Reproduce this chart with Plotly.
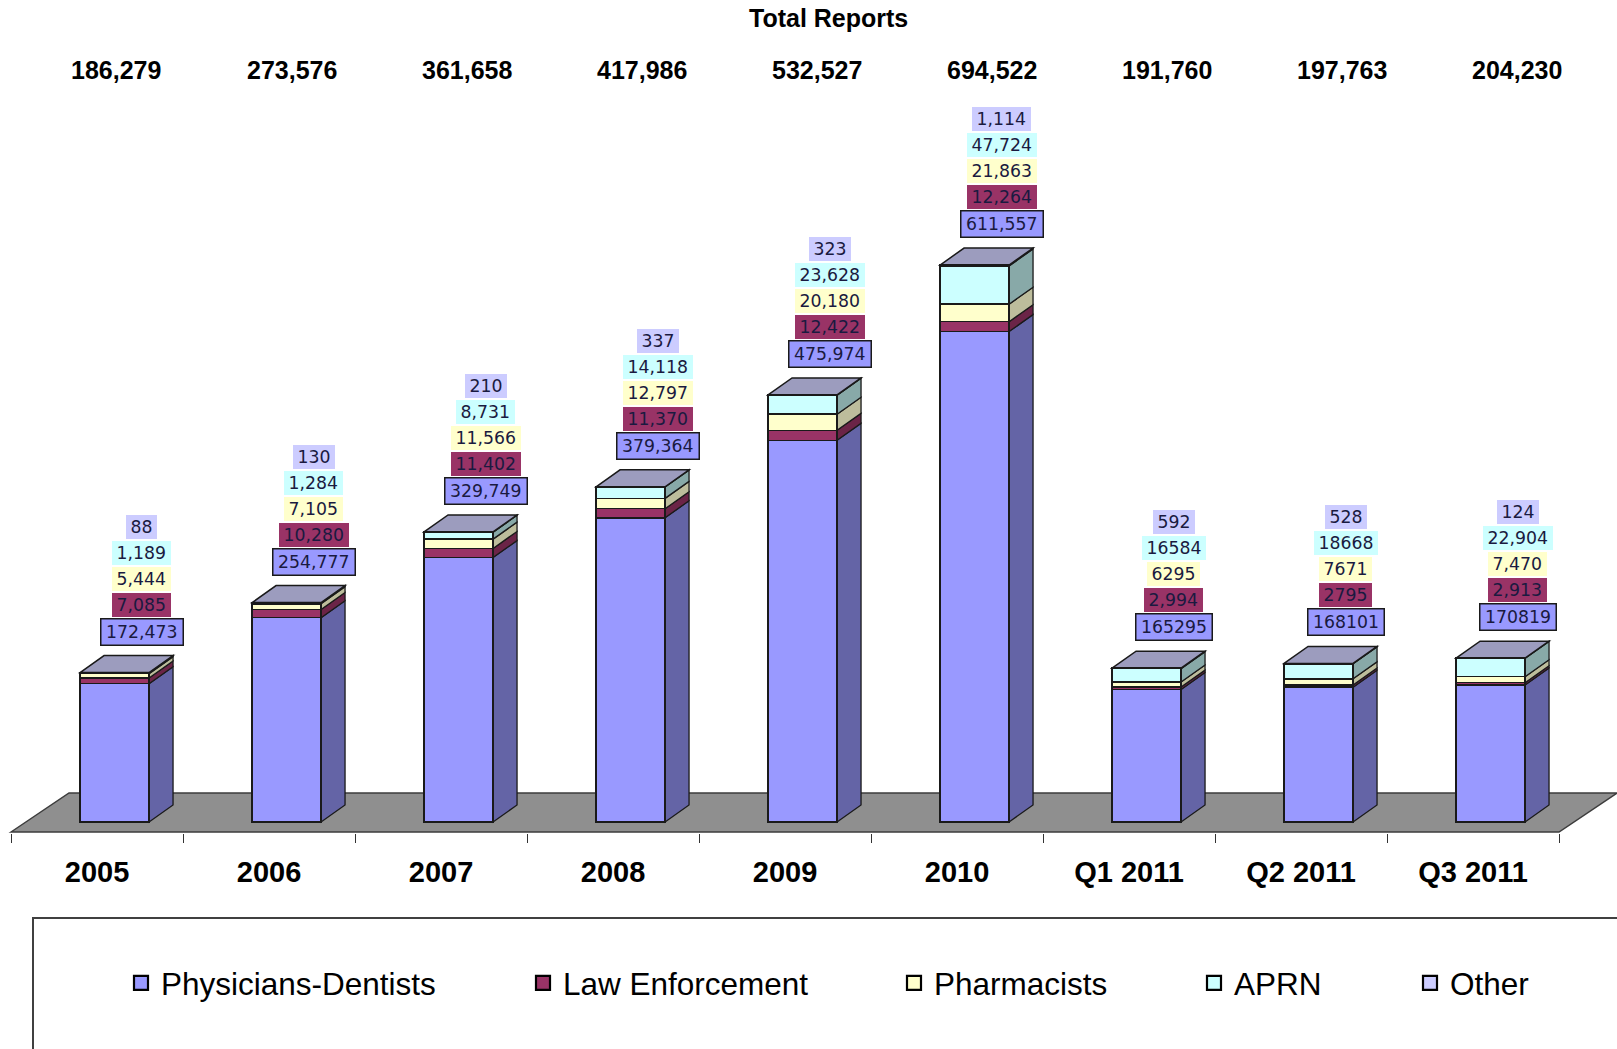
import plotly.graph_objects as go

# ---------------- data ----------------
categories = ["2005", "2006", "2007", "2008", "2009", "2010", "Q1 2011", "Q2 2011", "Q3 2011"]
series_names = ["Physicians-Dentists", "Law Enforcement", "Pharmacists", "APRN", "Other"]
physicians_dentists = [172473, 254777, 329749, 379364, 475974, 611557, 165295, 168101, 170819]
law_enforcement = [7085, 10280, 11402, 11370, 12422, 12264, 2994, 2795, 2913]
pharmacists = [5444, 7105, 11566, 12797, 20180, 21863, 6295, 7671, 7470]
aprn = [1189, 1284, 8731, 14118, 23628, 47724, 16584, 18668, 22904]
other = [88, 130, 210, 337, 323, 1114, 592, 528, 124]
# whether the printed data label uses a thousands separator (as in the original)
phys_comma = [1, 1, 1, 1, 1, 1, 0, 0, 0]
le_comma = [1, 1, 1, 1, 1, 1, 1, 0, 1]
pharm_comma = [1, 1, 1, 1, 1, 1, 0, 0, 1]
aprn_comma = [1, 1, 1, 1, 1, 1, 0, 0, 1]
other_comma = [1, 1, 1, 1, 1, 1, 1, 1, 1]
title_text = "Total Reports"

# ---------------- styles ----------------
FONT = "Liberation Sans, Arial, sans-serif"
LABEL_FONT = "DejaVu Sans, Verdana, sans-serif"
front_colors = ["#9999FF", "#993366", "#FFFFCC", "#CCFFFF", "#CCCCFF"]
side_colors = ["#6464A6", "#6B2447", "#BDBD9C", "#88A9A8", "#9999BF"]
top_color = "#9C9CBE"
EDGE = "#1a1a1a"
FLOOR = "#8F8F8F"

W, H = 1617, 1049
PLOT_BOTTOM_PX = 833      # bottom of plotting area (px from top)
BASE_PX = 822             # pixel row of value 0 (front bottom of bars)
UPP = 1247.0              # value units per pixel
CAT_PX = 172.0            # pixels per category
X0 = -0.564               # x value at left edge
BAR_W = 0.401
BAR_SHIFT = 0.102
DEPTH_DX = 24 / CAT_PX
DEPTH_DY = 17 * UPP
FLOOR_DX = 58 / CAT_PX
FLOOR_FRONT = -10 * UPP
FLOOR_BACK = 29 * UPP

all_series = [physicians_dentists, law_enforcement, pharmacists, aprn, other]
comma_flags = [phys_comma, le_comma, pharm_comma, aprn_comma, other_comma]
n = len(categories)
idx = list(range(n))
totals = [sum(s[i] for s in all_series) for i in idx]

fig = go.Figure()
legend_keys = ["legend", "legend2", "legend3", "legend4", "legend5"]
for s, vals in enumerate(all_series):
    fig.add_trace(go.Bar(
        x=idx, y=vals, name=series_names[s],
        width=BAR_W, offset=BAR_SHIFT - BAR_W / 2,
        marker=dict(color=front_colors[s], line=dict(color=EDGE, width=1.5)),
        showlegend=False, hoverinfo="name+y",
    ))
# legend entries (square swatches like the original)
for s in range(len(all_series)):
    fig.add_trace(go.Scatter(
        x=[None], y=[None], mode="markers", name=series_names[s],
        marker=dict(symbol="square", size=14, color=front_colors[s],
                    line=dict(color="black", width=2.2)),
        legend=legend_keys[s], showlegend=True, hoverinfo="skip",
    ))

shapes = []
# floor
fl, fr = -0.5, n - 0.5
shapes.append(dict(
    type="path", xref="x", yref="y", layer="below",
    path=(f"M{fl},{FLOOR_FRONT} L{fl + FLOOR_DX},{FLOOR_BACK} "
          f"L{fr + FLOOR_DX},{FLOOR_BACK} L{fr},{FLOOR_FRONT} Z"),
    fillcolor=FLOOR, line=dict(color="#3c3c3c", width=1.5)))

# 3D side and top faces computed from the data
for i in idx:
    base = 0
    xl = i + BAR_SHIFT - BAR_W / 2
    xr = i + BAR_SHIFT + BAR_W / 2
    for s, vals in enumerate(all_series):
        v = vals[i]
        shapes.append(dict(
            type="path", xref="x", yref="y", layer="below",
            path=(f"M{xr},{base} L{xr + DEPTH_DX},{base + DEPTH_DY} "
                  f"L{xr + DEPTH_DX},{base + v + DEPTH_DY} L{xr},{base + v} Z"),
            fillcolor=side_colors[s], line=dict(color=EDGE, width=1.3)))
        base += v
    shapes.append(dict(
        type="path", xref="x", yref="y", layer="below",
        path=(f"M{xl},{base} L{xl + DEPTH_DX},{base + DEPTH_DY} "
              f"L{xr + DEPTH_DX},{base + DEPTH_DY} L{xr},{base} Z"),
        fillcolor=top_color, line=dict(color=EDGE, width=1.5)))

def py(px):
    return (PLOT_BOTTOM_PX - px) / PLOT_BOTTOM_PX

# legend frame
shapes.append(dict(type="rect", xref="paper", yref="paper",
                   x0=33 / W, x1=1.2, y0=py(918), y1=py(1200),
                   line=dict(color="#404040", width=2), fillcolor="rgba(0,0,0,0)"))

annotations = []
annotations.append(dict(text=title_text, xref="paper", yref="paper",
                        x=828 / W, y=py(18), xanchor="center", yanchor="middle",
                        showarrow=False, font=dict(family=FONT, size=25, color="black", weight="bold")))
for i in idx:
    annotations.append(dict(text=f"{totals[i]:,}", xref="x", yref="paper",
                            x=0.113 + i * 1.018, y=py(70), xanchor="center", yanchor="middle",
                            showarrow=False, font=dict(family=FONT, size=25, color="black", weight="bold")))

LABEL_FS = 17.3
label_offsets = [24, 51, 77, 103, 129]

def text_w(t):
    return sum(0.636 if c.isdigit() else 0.318 for c in t) * LABEL_FS

for i in idx:
    for s, vals in enumerate(all_series):
        v = vals[i]
        t = f"{v:,}" if comma_flags[s][i] else str(v)
        is_phys = (s == 0)
        annotations.append(dict(
            text=t, xref="x", yref="y",
            x=i + BAR_SHIFT + DEPTH_DX + 0.02, y=totals[i],
            yshift=17 + label_offsets[s], xanchor="center", yanchor="middle",
            showarrow=False, bgcolor=front_colors[s],
            bordercolor=EDGE if is_phys else front_colors[s],
            borderwidth=1.5 if is_phys else 0,
            borderpad=2, width=text_w(t) + 5, height=20 if not is_phys else 21,
            font=dict(family=LABEL_FONT, size=LABEL_FS, color="#1a1a40")))

legend_text_px = [163, 565, 936, 1236, 1452]
layout_legends = {}
for s, key in enumerate(legend_keys):
    layout_legends[key] = dict(
        x=(legend_text_px[s] - 42) / W, y=py(983), xanchor="left", yanchor="middle",
        orientation="h", bgcolor="rgba(0,0,0,0)", borderwidth=0,
        font=dict(family=FONT, size=31.5, color="black"))

ymin = -(PLOT_BOTTOM_PX - BASE_PX) * UPP
ymax = BASE_PX * UPP
fig.update_layout(
    width=W, height=H, barmode="stack",
    margin=dict(l=0, r=0, t=0, b=H - PLOT_BOTTOM_PX),
    paper_bgcolor="white", plot_bgcolor="white",
    xaxis=dict(range=[X0, X0 + W / CAT_PX], tickmode="array", tickvals=idx, ticktext=categories,
               ticks="", showgrid=False, zeroline=False, showline=False,
               tickfont=dict(family=FONT, size=29, color="black", weight="bold"),
               ticklabelstandoff=19,
               minor=dict(tickmode="array", tickvals=[i - 0.5 for i in range(n + 1)],
                          ticks="outside", ticklen=9, tickwidth=1.3, tickcolor="#333",
                          showgrid=False)),
    yaxis=dict(range=[ymin, ymax], visible=False, showgrid=False, zeroline=False),
    shapes=shapes, annotations=annotations, showlegend=True,
    **layout_legends,
)

fig.write_html("out.html", config={"displayModeBar": False},
               post_script="document.body.style.margin='0px';")
